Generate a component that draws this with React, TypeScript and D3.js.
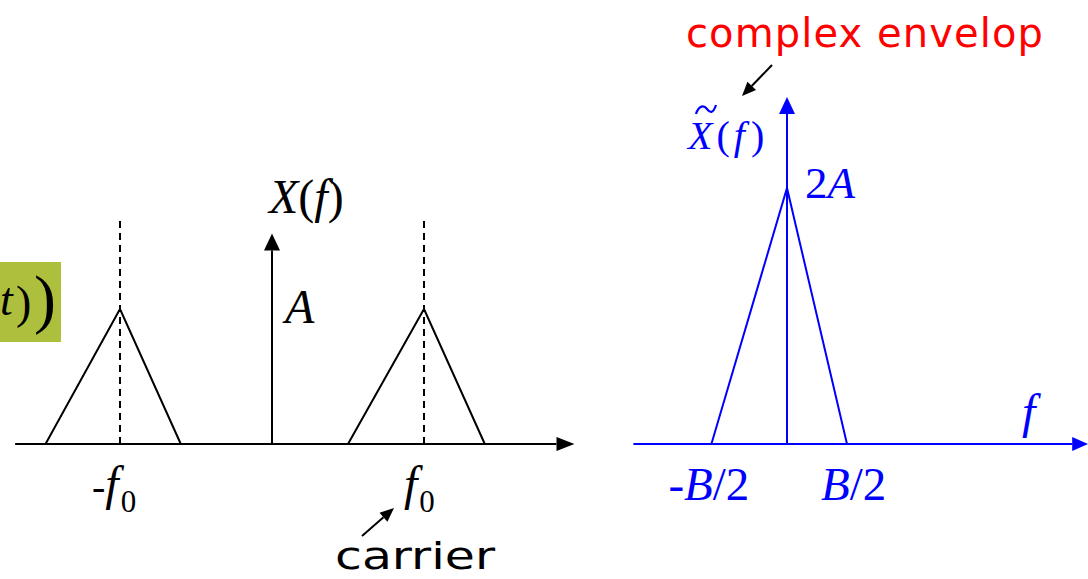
import React from "react";
import * as d3 from "d3";

// ---------- data (left panel: real bandpass spectrum X(f)) ----------
// frequency in units of f0, amplitude in units of A
const leftTriNeg: [number, number][] = [[-1.49, 0], [-1, 1], [-0.6, 0]];
const leftTriPos: [number, number][] = [[0.5, 0], [1, 1], [1.4, 0]];
const leftDashed = [-1, 1];
const leftDashTop = 1.67;
const leftAxisRange = [-1.69, 1.99];
const leftImpulseTop = 1.56;
const leftTickSigns = ["-", ""];

// ---------- data (right panel: complex envelope) ----------
// frequency in units of B, amplitude in units of A
const rightTri: [number, number][] = [[-0.63, 0], [0, 2], [0.5, 0]];
const rightAxisRange = [-1.28, 2.51];
const rightArrowTop = 2.71;
const rightTickSigns = ["-", ""];
const rightTickValues = [-0.63, 0.5];

const serif = "'Liberation Serif', 'Times New Roman', serif";
const sans = "'DejaVu Sans', sans-serif";
const BLUE = "#0000ff";

function Arrow({ x1, y1, x2, y2, color, len = 17, w = 8, sw = 2 }: any) {
  const ang = Math.atan2(y2 - y1, x2 - x1);
  const bx = x2 - len * Math.cos(ang);
  const by = y2 - len * Math.sin(ang);
  const px = -Math.sin(ang) * w;
  const py = Math.cos(ang) * w;
  return (
    <g>
      <line x1={x1} y1={y1} x2={bx} y2={by} stroke={color} strokeWidth={sw} />
      <path d={`M${x2},${y2}L${bx + px},${by + py}L${bx - px},${by - py}Z`} fill={color} />
    </g>
  );
}

export default function App() {
  // left scales
  const lx = d3.scaleLinear().domain([0, 1]).range([272, 424]);
  const ly = d3.scaleLinear().domain([0, 1]).range([444, 309]);
  // right scales
  const rx = d3.scaleLinear().domain([0, 1]).range([787, 907]);
  const ry = d3.scaleLinear().domain([0, 2]).range([444, 188]);

  const lineL = d3.line<[number, number]>().x((d) => lx(d[0])).y((d) => ly(d[1]));
  const lineR = d3.line<[number, number]>().x((d) => rx(d[0])).y((d) => ry(d[1]));

  return (
    <svg width={1088} height={579} style={{ position: "absolute", left: 0, top: 0, background: "#fff" }}>
      {/* green highlight box fragment */}
      <rect x={0} y={262} width={61} height={80} fill="#adbf3c" />
      <text x={0} y={315} fontFamily={serif} fontStyle="italic" fontSize={46} fill="#000">t</text>
      <text x={16} y={318} fontFamily={serif} fontSize={46} fill="#000">)</text>
      <text x={34} y={321} fontFamily={serif} fontSize={66} fill="#000">)</text>

      {/* ---------- left panel ---------- */}
      <Arrow x1={lx(leftAxisRange[0])} y1={ly(0)} x2={lx(leftAxisRange[1])} y2={ly(0)} color="#000" len={18} w={7} />
      <Arrow x1={lx(0)} y1={ly(0)} x2={lx(0)} y2={ly(leftImpulseTop)} color="#000" len={17} w={8} />
      <path d={lineL(leftTriNeg) || ""} fill="none" stroke="#000" strokeWidth={2} />
      <path d={lineL(leftTriPos) || ""} fill="none" stroke="#000" strokeWidth={2} />
      {leftDashed.map((v, i) => (
        <line key={i} x1={lx(v)} x2={lx(v)} y1={ly(0)} y2={ly(leftDashTop)} stroke="#000" strokeWidth={2} strokeDasharray="7,5" />
      ))}
      <text x={269} y={213} fontFamily={serif} fontSize={48} fill="#000">
        <tspan fontStyle="italic">X</tspan>
        <tspan>(</tspan>
        <tspan fontStyle="italic">f</tspan>
        <tspan>)</tspan>
      </text>
      <text x={285} y={323} fontFamily={serif} fontStyle="italic" fontSize={48} fill="#000">A</text>
      {leftDashed.map((v, i) => (
        <text key={i} x={lx(v) + (i === 0 ? -28 : -20)} y={500} fontFamily={serif} fontSize={48} fill="#000">
          {leftTickSigns[i] ? <tspan fontSize={40}>{leftTickSigns[i]}</tspan> : null}
          <tspan fontStyle="italic">f</tspan>
          <tspan fontSize={31} dy={12} dx={2}>0</tspan>
        </text>
      ))}
      <Arrow x1={362} y1={536} x2={394} y2={508} color="#000" len={14} w={6} sw={2} />
      <text x={335} y={569} fontFamily={sans} fontSize={38} fill="#000" textLength={160} lengthAdjust="spacingAndGlyphs">carrier</text>

      {/* ---------- right panel ---------- */}
      <text x={686} y={47} fontFamily={sans} fontSize={40} fill="#ff0000" textLength={357}>complex envelop</text>
      <Arrow x1={772} y1={65} x2={742} y2={96} color="#000" len={14} w={6} sw={2} />

      <Arrow x1={rx(rightAxisRange[0])} y1={ry(0)} x2={rx(rightAxisRange[1])} y2={ry(0)} color={BLUE} len={16} w={7} />
      <Arrow x1={rx(0)} y1={ry(0)} x2={rx(0)} y2={ry(rightArrowTop)} color={BLUE} len={17} w={8} />
      <path d={lineR(rightTri) || ""} fill="none" stroke={BLUE} strokeWidth={2} />

      {/* tilde over X */}
      <path d="M696,114 C699,105 704,105 707,109 S713,114 716,105" fill="none" stroke={BLUE} strokeWidth={2.2} />
      <text x={688} y={149} fontFamily={serif} fontSize={40} fill={BLUE}>
        <tspan fontStyle="italic">X</tspan>
        <tspan dx={4}>(</tspan>
        <tspan fontStyle="italic" dx={4}>f</tspan>
        <tspan dx={6}>)</tspan>
      </text>
      <text x={805} y={198} fontFamily={serif} fontSize={45} fill={BLUE}>
        <tspan>2</tspan>
        <tspan fontStyle="italic">A</tspan>
      </text>
      <text x={1022} y={428} fontFamily={serif} fontStyle="italic" fontSize={48} fill={BLUE}>f</text>
      {rightTickSigns.map((s, i) => (
        <text key={i} x={rx(rightTickValues[i]) + (i === 0 ? -43 : -26)} y={500} fontFamily={serif} fontSize={47} fill={BLUE}>
          {s ? <tspan>{s}</tspan> : null}
          <tspan fontStyle="italic">B</tspan>
          <tspan>/2</tspan>
        </text>
      ))}
    </svg>
  );
}
